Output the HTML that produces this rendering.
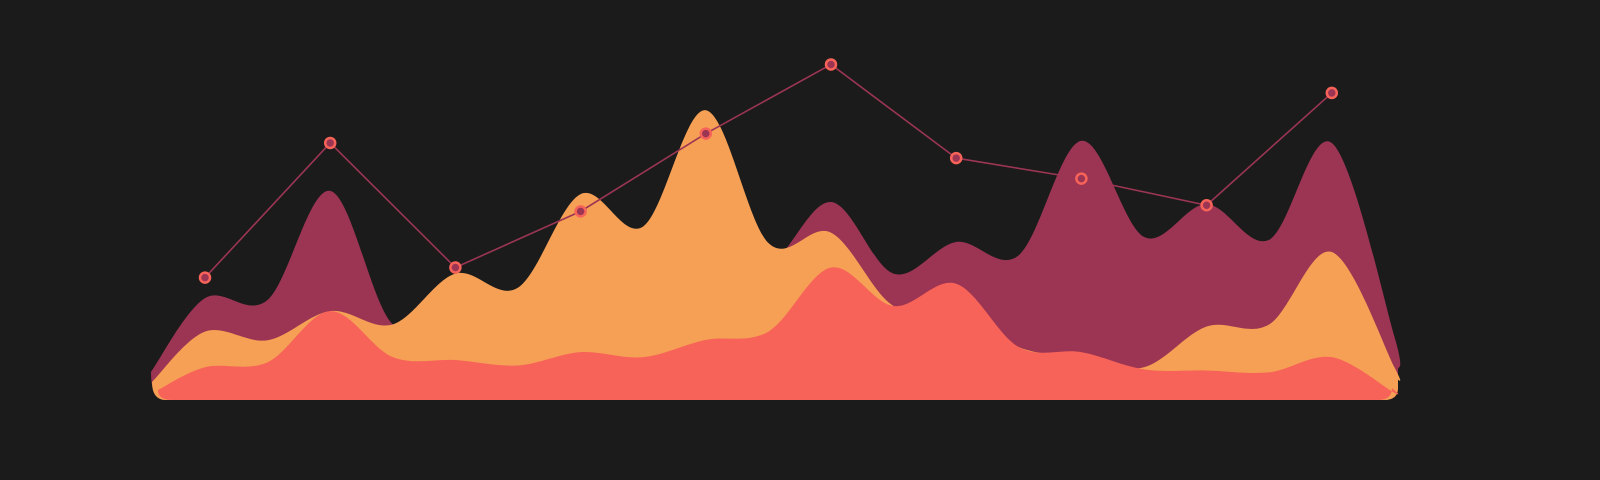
<!DOCTYPE html>
<html><head><meta charset="utf-8"><style>
html,body{margin:0;padding:0;background:#1b1b1b;width:1600px;height:480px;overflow:hidden}
svg{display:block}
</style></head><body>
<svg id="chart" width="1600" height="480" viewBox="0 0 1600 480"></svg>
<script>
const categories = ["1","2","3","4","5","6","7","8","9","10"];
const lineValues = [34, 71.4, 36.8, 52.4, 74, 93.2, 67.2, 61.5, 54.1, 85.3];
const maroonValues = [28.3,27.8,58.1,21,26.1,20.4,26.1,26.1,40.2,37.4,55,35.1,43.9,40.2,72,45.3,54.4,44.5,71.4,17.6];
const orangeValues = [19,16.6,24.7,21,35.1,31.2,57.2,48.2,80.5,43.6,46.5,26.1,26.1,14.7,11.9,9.1,20.4,21,41.1,9.1];
const redValues = [9.1,10.5,24.7,11.9,11.1,9.6,13.3,11.9,16.7,19,36.8,26.1,32.3,14.7,13.3,8.5,8.2,7.7,11.9,2];

const svg = document.getElementById('chart');
const NS = 'http://www.w3.org/2000/svg';
const x0 = 205, step = 125.2, base = 400;
function xScale(i){ return x0 + i*step; }
function yScale(v){ return base - v*3.6; }

function catmull(pts){
  let d = '';
  for(let i=0;i<pts.length-1;i++){
    const p0=pts[Math.max(0,i-1)],p1=pts[i],p2=pts[i+1],p3=pts[Math.min(pts.length-1,i+2)];
    const c1=[p1[0]+(p2[0]-p0[0])/6,p1[1]+(p2[1]-p0[1])/6];
    const c2=[p2[0]-(p3[0]-p1[0])/6,p2[1]-(p3[1]-p1[1])/6];
    d+=' C'+c1[0]+','+c1[1]+' '+c2[0]+','+c2[1]+' '+p2[0]+','+p2[1];
  }
  return d;
}
function area(vals, color, name, startX, edgeL, endX, edgeR){
  const pts=[[startX,base-edgeL]];
  vals.forEach((v,k)=>pts.push([xScale(k/2),yScale(v)]));
  pts.push([endX,base-edgeR]);
  let d='M'+(startX+14)+','+base+' Q'+startX+','+base+' '+startX+','+(base-edgeL);
  d+=catmull(pts);
  d+=' L'+endX+','+(base-12)+' Q'+endX+','+base+' '+(endX-14)+','+base+' Z';
  const p=document.createElementNS(NS,'path');
  p.setAttribute('d',d);p.setAttribute('fill',color);
  
  
  svg.appendChild(p);
}
area(maroonValues,'#9b3553','maroon-area',151,28,1398,30);
area(orangeValues,'#f6a055','orange-area',152,18,1398,20);
area(redValues,'#f76358','red-area',158,10,1392,12);

const pl=document.createElementNS(NS,'polyline');
pl.setAttribute('points',lineValues.map((v,i)=>xScale(i)+','+yScale(v)).join(' '));
pl.setAttribute('fill','none');pl.setAttribute('stroke','#9b3553');pl.setAttribute('stroke-width','1.6');


svg.appendChild(pl);
lineValues.forEach((v,i)=>{
  const c=document.createElementNS(NS,'circle');
  c.setAttribute('cx',xScale(i));c.setAttribute('cy',yScale(v));c.setAttribute('r','5');
  c.setAttribute('fill','#9b3553');c.setAttribute('stroke','#f76358');c.setAttribute('stroke-width','2.5');
  
  
  svg.appendChild(c);
});
</script>
</body></html>
